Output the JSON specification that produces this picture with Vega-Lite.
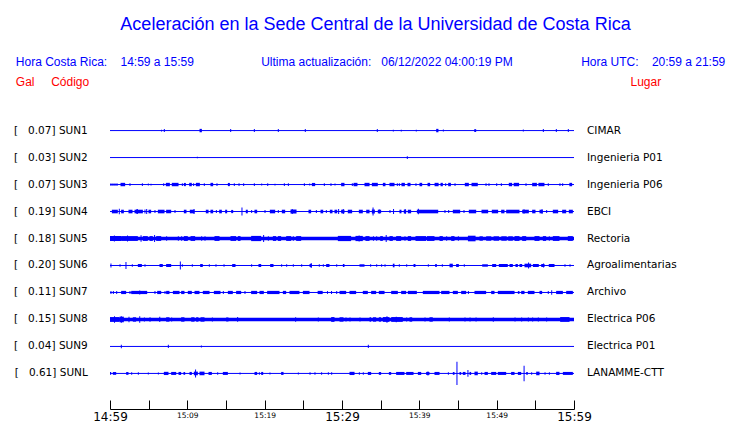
{
"$schema": "https://vega.github.io/schema/vega-lite/v6.json",
"width": 464, "height": 314,
"autosize": {"type": "none"},
"padding": {"left": 110, "top": 95, "right": 166, "bottom": 14},
"background": "white",
"config": {"view": {"stroke": null}, "axis": {"grid": false, "labelFont": "DejaVu Sans", "labelFontSize": 10.5, "labelColor": "#000000", "titleFont": "Liberation Sans", "titleFontSize": 12, "titleFontWeight": "normal"}},
"title": {"text": "Aceleración en la Sede Central de la Universidad de Costa Rica", "anchor": "middle", "frame": "group", "dx": 33.5, "dy": -17, "font": "Liberation Sans", "fontSize": 18, "fontWeight": "normal", "color": "#0000ff"},
"datasets": {
"stations": [
{"s": "SUN1", "gal": 0.07, "lugar": "CIMAR"},
{"s": "SUN2", "gal": 0.03, "lugar": "Ingenieria P01"},
{"s": "SUN3", "gal": 0.07, "lugar": "Ingenieria P06"},
{"s": "SUN4", "gal": 0.19, "lugar": "EBCI"},
{"s": "SUN5", "gal": 0.18, "lugar": "Rectoria"},
{"s": "SUN6", "gal": 0.20, "lugar": "Agroalimentarias"},
{"s": "SUN7", "gal": 0.11, "lugar": "Archivo"},
{"s": "SUN8", "gal": 0.15, "lugar": "Electrica P06"},
{"s": "SUN9", "gal": 0.04, "lugar": "Electrica P01"},
{"s": "SUNL", "gal": 0.61, "lugar": "LANAMME-CTT"}
],
"waves": [
{"s":"SUN5","t0":0,"t1":60,"a":0.085},
{"s":"SUN8","t0":0,"t1":60,"a":0.09},
{"s":"SUN1","t0":6.6,"t1":6.73,"a":0.045},{"s":"SUN1","t0":6.96,"t1":7.09,"a":0.075},{"s":"SUN1","t0":11.58,"t1":11.88,"a":0.085},{"s":"SUN1","t0":15.54,"t1":15.67,"a":0.075},{"s":"SUN1","t0":18.6,"t1":18.73,"a":0.075},{"s":"SUN1","t0":21.7,"t1":21.83,"a":0.075},{"s":"SUN1","t0":25.19,"t1":25.32,"a":0.075},{"s":"SUN1","t0":34.5,"t1":34.63,"a":0.075},{"s":"SUN1","t0":36.57,"t1":36.7,"a":0.045},{"s":"SUN1","t0":37.6,"t1":37.73,"a":0.045},{"s":"SUN1","t0":39.54,"t1":39.67,"a":0.045},{"s":"SUN1","t0":42.18,"t1":42.47,"a":0.085},{"s":"SUN1","t0":43.04,"t1":43.17,"a":0.05},{"s":"SUN1","t0":47.1,"t1":47.35,"a":0.07},{"s":"SUN1","t0":53.38,"t1":53.51,"a":0.05},{"s":"SUN1","t0":55.97,"t1":56.1,"a":0.075},{"s":"SUN1","t0":57.65,"t1":57.78,"a":0.075},{"s":"SUN1","t0":59.2,"t1":59.33,"a":0.075},
{"s":"SUN2","t0":11.23,"t1":11.36,"a":0.04},{"s":"SUN2","t0":38.38,"t1":38.51,"a":0.07},
{"s":"SUN3","t0":0.06,"t1":0.19,"a":0.07},{"s":"SUN3","t0":0.32,"t1":0.45,"a":0.07},{"s":"SUN3","t0":0.58,"t1":0.71,"a":0.07},{"s":"SUN3","t0":0.84,"t1":0.97,"a":0.07},{"s":"SUN3","t0":1.36,"t1":1.96,"a":0.085},{"s":"SUN3","t0":2.52,"t1":2.65,"a":0.07},{"s":"SUN3","t0":4.12,"t1":4.25,"a":0.07},{"s":"SUN3","t0":4.89,"t1":5.02,"a":0.05},{"s":"SUN3","t0":5.24,"t1":5.37,"a":0.045},{"s":"SUN3","t0":6.88,"t1":7.01,"a":0.07},{"s":"SUN3","t0":7.22,"t1":7.74,"a":0.085},{"s":"SUN3","t0":7.99,"t1":8.86,"a":0.085},{"s":"SUN3","t0":9.29,"t1":9.42,"a":0.07},{"s":"SUN3","t0":9.55,"t1":9.81,"a":0.08},{"s":"SUN3","t0":10.24,"t1":10.58,"a":0.085},{"s":"SUN3","t0":10.75,"t1":10.88,"a":0.07},{"s":"SUN3","t0":11.1,"t1":11.62,"a":0.085},{"s":"SUN3","t0":12.13,"t1":12.26,"a":0.07},{"s":"SUN3","t0":12.99,"t1":13.34,"a":0.085},{"s":"SUN3","t0":13.77,"t1":13.9,"a":0.07},{"s":"SUN3","t0":15.24,"t1":15.5,"a":0.08},{"s":"SUN3","t0":16.01,"t1":16.14,"a":0.07},{"s":"SUN3","t0":16.62,"t1":16.75,"a":0.07},{"s":"SUN3","t0":17.22,"t1":17.35,"a":0.07},{"s":"SUN3","t0":18.6,"t1":18.73,"a":0.07},{"s":"SUN3","t0":19.55,"t1":19.68,"a":0.05},{"s":"SUN3","t0":20.33,"t1":20.46,"a":0.07},{"s":"SUN3","t0":21.27,"t1":21.4,"a":0.045},{"s":"SUN3","t0":22.48,"t1":22.61,"a":0.07},{"s":"SUN3","t0":23.0,"t1":23.13,"a":0.07},{"s":"SUN3","t0":25.07,"t1":25.2,"a":0.07},{"s":"SUN3","t0":25.76,"t1":25.89,"a":0.05},{"s":"SUN3","t0":26.1,"t1":26.53,"a":0.08},{"s":"SUN3","t0":27.65,"t1":27.78,"a":0.07},{"s":"SUN3","t0":28.51,"t1":28.64,"a":0.07},{"s":"SUN3","t0":29.03,"t1":29.16,"a":0.05},{"s":"SUN3","t0":29.89,"t1":30.32,"a":0.085},{"s":"SUN3","t0":31.27,"t1":31.4,"a":0.07},{"s":"SUN3","t0":31.49,"t1":32.0,"a":0.085},{"s":"SUN3","t0":32.91,"t1":33.56,"a":0.085},{"s":"SUN3","t0":33.86,"t1":34.63,"a":0.085},{"s":"SUN3","t0":35.28,"t1":35.62,"a":0.085},{"s":"SUN3","t0":36.14,"t1":36.79,"a":0.085},{"s":"SUN3","t0":37.09,"t1":37.22,"a":0.07},{"s":"SUN3","t0":37.35,"t1":37.48,"a":0.07},{"s":"SUN3","t0":37.69,"t1":38.13,"a":0.085},{"s":"SUN3","t0":38.47,"t1":38.86,"a":0.085},{"s":"SUN3","t0":39.5,"t1":39.63,"a":0.07},{"s":"SUN3","t0":40.02,"t1":40.37,"a":0.085},{"s":"SUN3","t0":41.06,"t1":41.4,"a":0.085},{"s":"SUN3","t0":41.97,"t1":42.49,"a":0.085},{"s":"SUN3","t0":42.74,"t1":43.04,"a":0.085},{"s":"SUN3","t0":43.34,"t1":43.47,"a":0.07},{"s":"SUN3","t0":43.73,"t1":44.08,"a":0.085},{"s":"SUN3","t0":44.55,"t1":44.68,"a":0.07},{"s":"SUN3","t0":45.88,"t1":46.4,"a":0.085},{"s":"SUN3","t0":46.75,"t1":47.56,"a":0.085},{"s":"SUN3","t0":48.56,"t1":48.69,"a":0.07},{"s":"SUN3","t0":48.94,"t1":49.07,"a":0.07},{"s":"SUN3","t0":49.94,"t1":50.07,"a":0.07},{"s":"SUN3","t0":50.54,"t1":50.67,"a":0.07},{"s":"SUN3","t0":51.57,"t1":52.0,"a":0.085},{"s":"SUN3","t0":52.2,"t1":52.9,"a":0.085},{"s":"SUN3","t0":53.73,"t1":53.86,"a":0.07},{"s":"SUN3","t0":54.59,"t1":55.2,"a":0.085},{"s":"SUN3","t0":55.4,"t1":56.18,"a":0.085},{"s":"SUN3","t0":56.61,"t1":56.74,"a":0.07},{"s":"SUN3","t0":58.12,"t1":58.25,"a":0.07},{"s":"SUN3","t0":58.47,"t1":58.6,"a":0.07},{"s":"SUN3","t0":59.4,"t1":59.76,"a":0.085},
{"s":"SUN4","t0":0.24,"t1":1.01,"a":0.09},{"s":"SUN4","t0":1.14,"t1":1.27,"a":0.14},{"s":"SUN4","t0":1.44,"t1":1.79,"a":0.09},{"s":"SUN4","t0":2.39,"t1":2.91,"a":0.09},{"s":"SUN4","t0":3.17,"t1":4.25,"a":0.09},{"s":"SUN4","t0":3.42,"t1":3.6,"a":0.125},{"s":"SUN4","t0":4.46,"t1":4.59,"a":0.1},{"s":"SUN4","t0":4.68,"t1":4.81,"a":0.12},{"s":"SUN4","t0":4.98,"t1":5.32,"a":0.09},{"s":"SUN4","t0":5.75,"t1":5.88,"a":0.07},{"s":"SUN4","t0":6.19,"t1":7.05,"a":0.09},{"s":"SUN4","t0":7.26,"t1":7.91,"a":0.09},{"s":"SUN4","t0":8.34,"t1":8.47,"a":0.07},{"s":"SUN4","t0":9.55,"t1":9.89,"a":0.09},{"s":"SUN4","t0":10.32,"t1":10.93,"a":0.09},{"s":"SUN4","t0":10.8,"t1":10.93,"a":0.12},{"s":"SUN4","t0":12.39,"t1":12.74,"a":0.09},{"s":"SUN4","t0":12.99,"t1":13.34,"a":0.09},{"s":"SUN4","t0":13.69,"t1":13.82,"a":0.07},{"s":"SUN4","t0":14.12,"t1":14.46,"a":0.09},{"s":"SUN4","t0":14.89,"t1":15.15,"a":0.09},{"s":"SUN4","t0":15.67,"t1":15.93,"a":0.08},{"s":"SUN4","t0":17.0,"t1":17.13,"a":0.2},{"s":"SUN4","t0":17.56,"t1":17.82,"a":0.09},{"s":"SUN4","t0":18.25,"t1":18.38,"a":0.07},{"s":"SUN4","t0":18.68,"t1":19.03,"a":0.09},{"s":"SUN4","t0":19.98,"t1":20.11,"a":0.07},{"s":"SUN4","t0":20.67,"t1":21.36,"a":0.09},{"s":"SUN4","t0":21.7,"t1":21.83,"a":0.07},{"s":"SUN4","t0":22.22,"t1":22.65,"a":0.09},{"s":"SUN4","t0":23.34,"t1":24.12,"a":0.1},{"s":"SUN4","t0":23.5,"t1":23.63,"a":0.12},{"s":"SUN4","t0":25.67,"t1":26.01,"a":0.09},{"s":"SUN4","t0":26.62,"t1":26.75,"a":0.07},{"s":"SUN4","t0":27.22,"t1":27.57,"a":0.09},{"s":"SUN4","t0":27.91,"t1":28.04,"a":0.07},{"s":"SUN4","t0":28.43,"t1":28.77,"a":0.09},{"s":"SUN4","t0":29.03,"t1":29.38,"a":0.09},{"s":"SUN4","t0":29.5,"t1":29.63,"a":0.12},{"s":"SUN4","t0":29.89,"t1":30.32,"a":0.09},{"s":"SUN4","t0":30.1,"t1":30.23,"a":0.12},{"s":"SUN4","t0":30.75,"t1":31.31,"a":0.09},{"s":"SUN4","t0":32.18,"t1":32.69,"a":0.09},{"s":"SUN4","t0":33.13,"t1":33.56,"a":0.09},{"s":"SUN4","t0":33.86,"t1":34.25,"a":0.1},{"s":"SUN4","t0":33.95,"t1":34.08,"a":0.2},{"s":"SUN4","t0":34.63,"t1":35.06,"a":0.09},{"s":"SUN4","t0":34.76,"t1":34.89,"a":0.1},{"s":"SUN4","t0":36.14,"t1":36.27,"a":0.07},{"s":"SUN4","t0":36.6,"t1":36.73,"a":0.12},{"s":"SUN4","t0":37.43,"t1":37.69,"a":0.09},{"s":"SUN4","t0":37.99,"t1":38.3,"a":0.09},{"s":"SUN4","t0":38.1,"t1":38.23,"a":0.12},{"s":"SUN4","t0":38.51,"t1":38.94,"a":0.09},{"s":"SUN4","t0":39.68,"t1":42.44,"a":0.09},{"s":"SUN4","t0":39.81,"t1":39.94,"a":0.14},{"s":"SUN4","t0":43.25,"t1":43.38,"a":0.07},{"s":"SUN4","t0":43.73,"t1":43.86,"a":0.07},{"s":"SUN4","t0":44.33,"t1":45.28,"a":0.09},{"s":"SUN4","t0":45.71,"t1":45.84,"a":0.07},{"s":"SUN4","t0":46.4,"t1":47.35,"a":0.09},{"s":"SUN4","t0":48.04,"t1":48.9,"a":0.09},{"s":"SUN4","t0":49.37,"t1":50.19,"a":0.09},{"s":"SUN4","t0":50.58,"t1":51.01,"a":0.09},{"s":"SUN4","t0":51.23,"t1":52.95,"a":0.09},{"s":"SUN4","t0":53.3,"t1":54.16,"a":0.09},{"s":"SUN4","t0":53.47,"t1":53.6,"a":0.11},{"s":"SUN4","t0":54.59,"t1":55.02,"a":0.09},{"s":"SUN4","t0":55.54,"t1":55.97,"a":0.09},{"s":"SUN4","t0":55.8,"t1":55.93,"a":0.11},{"s":"SUN4","t0":56.4,"t1":56.53,"a":0.07},{"s":"SUN4","t0":57.26,"t1":57.95,"a":0.09},{"s":"SUN4","t0":58.47,"t1":58.99,"a":0.09},{"s":"SUN4","t0":59.33,"t1":59.85,"a":0.09},
{"s":"SUN5","t0":0,"t1":1.44,"a":0.125},{"s":"SUN5","t0":1.44,"t1":3.6,"a":0.12},{"s":"SUN5","t0":0.5,"t1":0.63,"a":0.15},{"s":"SUN5","t0":2.2,"t1":2.33,"a":0.15},{"s":"SUN5","t0":3.95,"t1":4.08,"a":0.16},{"s":"SUN5","t0":4.25,"t1":4.89,"a":0.12},{"s":"SUN5","t0":5.11,"t1":5.54,"a":0.12},{"s":"SUN5","t0":5.7,"t1":5.83,"a":0.17},{"s":"SUN5","t0":5.97,"t1":6.62,"a":0.12},{"s":"SUN5","t0":7.26,"t1":7.39,"a":0.11},{"s":"SUN5","t0":8.77,"t1":8.9,"a":0.11},{"s":"SUN5","t0":9.2,"t1":9.33,"a":0.11},{"s":"SUN5","t0":9.55,"t1":10.06,"a":0.12},{"s":"SUN5","t0":10.41,"t1":11.01,"a":0.12},{"s":"SUN5","t0":11.79,"t1":11.92,"a":0.11},{"s":"SUN5","t0":12.22,"t1":12.35,"a":0.11},{"s":"SUN5","t0":13.51,"t1":14.16,"a":0.12},{"s":"SUN5","t0":15.58,"t1":16.31,"a":0.12},{"s":"SUN5","t0":16.53,"t1":16.88,"a":0.12},{"s":"SUN5","t0":18.25,"t1":19.55,"a":0.13},{"s":"SUN5","t0":19.8,"t1":19.93,"a":0.17},{"s":"SUN5","t0":20.41,"t1":20.54,"a":0.11},{"s":"SUN5","t0":21.06,"t1":21.49,"a":0.12},{"s":"SUN5","t0":21.7,"t1":22.13,"a":0.12},{"s":"SUN5","t0":22.78,"t1":23.43,"a":0.12},{"s":"SUN5","t0":23.64,"t1":23.77,"a":0.11},{"s":"SUN5","t0":24.07,"t1":24.72,"a":0.12},{"s":"SUN5","t0":29.46,"t1":31.18,"a":0.13},{"s":"SUN5","t0":31.74,"t1":32.69,"a":0.13},{"s":"SUN5","t0":32.15,"t1":32.28,"a":0.15},{"s":"SUN5","t0":33.03,"t1":33.56,"a":0.12},{"s":"SUN5","t0":34.0,"t1":34.13,"a":0.11},{"s":"SUN5","t0":34.42,"t1":34.55,"a":0.11},{"s":"SUN5","t0":34.94,"t1":35.28,"a":0.12},{"s":"SUN5","t0":35.65,"t1":35.78,"a":0.17},{"s":"SUN5","t0":36.14,"t1":36.57,"a":0.12},{"s":"SUN5","t0":37.0,"t1":37.65,"a":0.12},{"s":"SUN5","t0":38.08,"t1":38.21,"a":0.11},{"s":"SUN5","t0":38.51,"t1":38.94,"a":0.12},{"s":"SUN5","t0":39.5,"t1":40.88,"a":0.12},{"s":"SUN5","t0":40.99,"t1":41.96,"a":0.12},{"s":"SUN5","t0":42.61,"t1":43.04,"a":0.12},{"s":"SUN5","t0":43.47,"t1":43.6,"a":0.11},{"s":"SUN5","t0":44.12,"t1":44.55,"a":0.12},{"s":"SUN5","t0":44.98,"t1":45.11,"a":0.11},{"s":"SUN5","t0":46.28,"t1":47.27,"a":0.14},{"s":"SUN5","t0":47.78,"t1":48.21,"a":0.11},{"s":"SUN5","t0":48.64,"t1":49.3,"a":0.11},{"s":"SUN5","t0":49.6,"t1":50.3,"a":0.11},{"s":"SUN5","t0":50.6,"t1":51.3,"a":0.11},{"s":"SUN5","t0":51.5,"t1":52.09,"a":0.11},{"s":"SUN5","t0":52.31,"t1":52.95,"a":0.12},{"s":"SUN5","t0":53.3,"t1":53.82,"a":0.12},{"s":"SUN5","t0":54.89,"t1":55.54,"a":0.12},{"s":"SUN5","t0":55.97,"t1":56.4,"a":0.12},{"s":"SUN5","t0":56.74,"t1":56.87,"a":0.11},{"s":"SUN5","t0":57.26,"t1":58.12,"a":0.12},{"s":"SUN5","t0":59.2,"t1":59.85,"a":0.12},
{"s":"SUN6","t0":0.06,"t1":0.19,"a":0.1},{"s":"SUN6","t0":1.23,"t1":1.36,"a":0.06},{"s":"SUN6","t0":2.0,"t1":2.13,"a":0.175},{"s":"SUN6","t0":2.82,"t1":2.95,"a":0.06},{"s":"SUN6","t0":3.6,"t1":4.12,"a":0.075},{"s":"SUN6","t0":4.46,"t1":4.59,"a":0.06},{"s":"SUN6","t0":6.4,"t1":6.83,"a":0.075},{"s":"SUN6","t0":7.26,"t1":7.91,"a":0.075},{"s":"SUN6","t0":9.03,"t1":9.16,"a":0.2},{"s":"SUN6","t0":9.29,"t1":9.42,"a":0.06},{"s":"SUN6","t0":10.58,"t1":10.71,"a":0.06},{"s":"SUN6","t0":11.66,"t1":12.0,"a":0.075},{"s":"SUN6","t0":12.78,"t1":12.91,"a":0.06},{"s":"SUN6","t0":13.64,"t1":13.77,"a":0.06},{"s":"SUN6","t0":14.68,"t1":14.81,"a":0.06},{"s":"SUN6","t0":15.8,"t1":16.23,"a":0.075},{"s":"SUN6","t0":18.25,"t1":18.38,"a":0.06},{"s":"SUN6","t0":19.2,"t1":19.55,"a":0.075},{"s":"SUN6","t0":20.71,"t1":21.14,"a":0.075},{"s":"SUN6","t0":22.13,"t1":22.26,"a":0.06},{"s":"SUN6","t0":22.78,"t1":22.91,"a":0.06},{"s":"SUN6","t0":23.64,"t1":23.77,"a":0.06},{"s":"SUN6","t0":24.72,"t1":24.85,"a":0.06},{"s":"SUN6","t0":25.8,"t1":26.1,"a":0.075},{"s":"SUN6","t0":25.95,"t1":26.08,"a":0.12},{"s":"SUN6","t0":27.0,"t1":27.13,"a":0.06},{"s":"SUN6","t0":27.52,"t1":27.65,"a":0.06},{"s":"SUN6","t0":27.95,"t1":28.38,"a":0.075},{"s":"SUN6","t0":29.25,"t1":29.38,"a":0.06},{"s":"SUN6","t0":30.11,"t1":30.32,"a":0.075},{"s":"SUN6","t0":32.26,"t1":32.91,"a":0.06},{"s":"SUN6","t0":33.64,"t1":33.77,"a":0.06},{"s":"SUN6","t0":34.42,"t1":34.55,"a":0.06},{"s":"SUN6","t0":35.06,"t1":35.19,"a":0.06},{"s":"SUN6","t0":35.5,"t1":35.63,"a":0.06},{"s":"SUN6","t0":36.57,"t1":36.79,"a":0.09},{"s":"SUN6","t0":37.35,"t1":37.48,"a":0.06},{"s":"SUN6","t0":38.3,"t1":38.43,"a":0.06},{"s":"SUN6","t0":39.25,"t1":39.5,"a":0.075},{"s":"SUN6","t0":41.1,"t1":41.23,"a":0.06},{"s":"SUN6","t0":42.05,"t1":42.26,"a":0.075},{"s":"SUN6","t0":42.91,"t1":43.04,"a":0.06},{"s":"SUN6","t0":43.9,"t1":44.33,"a":0.09},{"s":"SUN6","t0":44.76,"t1":45.11,"a":0.075},{"s":"SUN6","t0":45.75,"t1":45.88,"a":0.06},{"s":"SUN6","t0":48.13,"t1":48.86,"a":0.06},{"s":"SUN6","t0":49.42,"t1":49.94,"a":0.075},{"s":"SUN6","t0":50.28,"t1":51.44,"a":0.075},{"s":"SUN6","t0":51.66,"t1":52.09,"a":0.075},{"s":"SUN6","t0":52.43,"t1":52.74,"a":0.075},{"s":"SUN6","t0":52.95,"t1":53.3,"a":0.075},{"s":"SUN6","t0":53.6,"t1":54.46,"a":0.09},{"s":"SUN6","t0":54.06,"t1":54.19,"a":0.15},{"s":"SUN6","t0":54.68,"t1":55.45,"a":0.075},{"s":"SUN6","t0":55.76,"t1":56.19,"a":0.075},{"s":"SUN6","t0":56.0,"t1":56.13,"a":0.1},{"s":"SUN6","t0":56.74,"t1":57.48,"a":0.075},{"s":"SUN6","t0":58.77,"t1":58.9,"a":0.06},{"s":"SUN6","t0":59.42,"t1":59.55,"a":0.06},
{"s":"SUN7","t0":0.06,"t1":0.19,"a":0.08},{"s":"SUN7","t0":0.37,"t1":0.5,"a":0.08},{"s":"SUN7","t0":0.8,"t1":0.93,"a":0.08},{"s":"SUN7","t0":1.44,"t1":2.09,"a":0.08},{"s":"SUN7","t0":2.52,"t1":2.65,"a":0.07},{"s":"SUN7","t0":2.74,"t1":4.81,"a":0.08},{"s":"SUN7","t0":3.78,"t1":3.91,"a":0.1},{"s":"SUN7","t0":5.75,"t1":5.88,"a":0.07},{"s":"SUN7","t0":6.1,"t1":6.62,"a":0.08},{"s":"SUN7","t0":7.05,"t1":7.18,"a":0.07},{"s":"SUN7","t0":7.26,"t1":7.69,"a":0.08},{"s":"SUN7","t0":8.13,"t1":8.99,"a":0.08},{"s":"SUN7","t0":9.2,"t1":9.63,"a":0.08},{"s":"SUN7","t0":10.06,"t1":10.58,"a":0.08},{"s":"SUN7","t0":10.93,"t1":11.57,"a":0.08},{"s":"SUN7","t0":12.0,"t1":12.87,"a":0.08},{"s":"SUN7","t0":13.43,"t1":14.29,"a":0.08},{"s":"SUN7","t0":14.59,"t1":14.72,"a":0.07},{"s":"SUN7","t0":15.24,"t1":15.88,"a":0.08},{"s":"SUN7","t0":16.31,"t1":16.96,"a":0.08},{"s":"SUN7","t0":17.39,"t1":17.52,"a":0.07},{"s":"SUN7","t0":18.25,"t1":19.03,"a":0.08},{"s":"SUN7","t0":19.33,"t1":19.89,"a":0.08},{"s":"SUN7","t0":20.32,"t1":21.92,"a":0.08},{"s":"SUN7","t0":22.35,"t1":22.78,"a":0.08},{"s":"SUN7","t0":23.21,"t1":24.5,"a":0.08},{"s":"SUN7","t0":24.94,"t1":25.8,"a":0.08},{"s":"SUN7","t0":26.85,"t1":27.5,"a":0.08},{"s":"SUN7","t0":28.06,"t1":28.19,"a":0.07},{"s":"SUN7","t0":28.58,"t1":28.71,"a":0.07},{"s":"SUN7","t0":29.25,"t1":29.38,"a":0.07},{"s":"SUN7","t0":29.68,"t1":30.54,"a":0.08},{"s":"SUN7","t0":30.97,"t1":31.83,"a":0.08},{"s":"SUN7","t0":32.69,"t1":33.34,"a":0.08},{"s":"SUN7","t0":33.77,"t1":34.42,"a":0.08},{"s":"SUN7","t0":34.76,"t1":35.5,"a":0.08},{"s":"SUN7","t0":36.36,"t1":37.22,"a":0.08},{"s":"SUN7","t0":37.65,"t1":38.3,"a":0.08},{"s":"SUN7","t0":38.51,"t1":39.68,"a":0.08},{"s":"SUN7","t0":40.45,"t1":42.61,"a":0.08},{"s":"SUN7","t0":42.82,"t1":43.9,"a":0.08},{"s":"SUN7","t0":44.33,"t1":44.98,"a":0.08},{"s":"SUN7","t0":45.41,"t1":46.06,"a":0.08},{"s":"SUN7","t0":46.28,"t1":46.41,"a":0.07},{"s":"SUN7","t0":47.13,"t1":48.64,"a":0.08},{"s":"SUN7","t0":49.29,"t1":49.72,"a":0.08},{"s":"SUN7","t0":50.15,"t1":52.31,"a":0.08},{"s":"SUN7","t0":52.74,"t1":52.95,"a":0.07},{"s":"SUN7","t0":53.17,"t1":53.6,"a":0.08},{"s":"SUN7","t0":54.03,"t1":54.89,"a":0.08},{"s":"SUN7","t0":55.54,"t1":55.88,"a":0.08},{"s":"SUN7","t0":56.61,"t1":56.74,"a":0.07},{"s":"SUN7","t0":57.05,"t1":57.18,"a":0.11},{"s":"SUN7","t0":57.69,"t1":58.56,"a":0.08},{"s":"SUN7","t0":58.99,"t1":59.85,"a":0.08},
{"s":"SUN8","t0":0,"t1":1.23,"a":0.12},{"s":"SUN8","t0":0.52,"t1":0.65,"a":0.16},{"s":"SUN8","t0":1.23,"t1":1.79,"a":0.14},{"s":"SUN8","t0":1.4,"t1":1.53,"a":0.16},{"s":"SUN8","t0":2.39,"t1":2.52,"a":0.14},{"s":"SUN8","t0":2.95,"t1":3.38,"a":0.11},{"s":"SUN8","t0":3.78,"t1":3.91,"a":0.16},{"s":"SUN8","t0":4.38,"t1":4.51,"a":0.1},{"s":"SUN8","t0":5.11,"t1":5.24,"a":0.11},{"s":"SUN8","t0":6.37,"t1":6.5,"a":0.13},{"s":"SUN8","t0":7.26,"t1":7.69,"a":0.11},{"s":"SUN8","t0":7.91,"t1":8.04,"a":0.1},{"s":"SUN8","t0":9.2,"t1":9.63,"a":0.11},{"s":"SUN8","t0":10.5,"t1":10.93,"a":0.11},{"s":"SUN8","t0":11.14,"t1":11.44,"a":0.11},{"s":"SUN8","t0":11.7,"t1":12.22,"a":0.11},{"s":"SUN8","t0":13.17,"t1":13.3,"a":0.1},{"s":"SUN8","t0":15.02,"t1":15.32,"a":0.1},{"s":"SUN8","t0":16.44,"t1":16.57,"a":0.12},{"s":"SUN8","t0":23.94,"t1":24.07,"a":0.11},{"s":"SUN8","t0":26.87,"t1":27.0,"a":0.1},{"s":"SUN8","t0":28.6,"t1":29.03,"a":0.12},{"s":"SUN8","t0":29.68,"t1":30.19,"a":0.11},{"s":"SUN8","t0":30.45,"t1":30.58,"a":0.1},{"s":"SUN8","t0":30.97,"t1":31.1,"a":0.1},{"s":"SUN8","t0":32.26,"t1":32.39,"a":0.1},{"s":"SUN8","t0":33.56,"t1":33.77,"a":0.11},{"s":"SUN8","t0":34.0,"t1":34.42,"a":0.11},{"s":"SUN8","t0":34.76,"t1":35.06,"a":0.11},{"s":"SUN8","t0":35.28,"t1":36.14,"a":0.12},{"s":"SUN8","t0":35.75,"t1":35.88,"a":0.16},{"s":"SUN8","t0":36.36,"t1":37.86,"a":0.12},{"s":"SUN8","t0":36.95,"t1":37.08,"a":0.14},{"s":"SUN8","t0":38.3,"t1":38.43,"a":0.1},{"s":"SUN8","t0":38.73,"t1":39.08,"a":0.11},{"s":"SUN8","t0":40.67,"t1":40.8,"a":0.1},{"s":"SUN8","t0":41.31,"t1":41.74,"a":0.11},{"s":"SUN8","t0":43.81,"t1":43.94,"a":0.1},{"s":"SUN8","t0":45.84,"t1":45.97,"a":0.1},{"s":"SUN8","t0":46.49,"t1":46.62,"a":0.1},{"s":"SUN8","t0":47.27,"t1":47.4,"a":0.1},{"s":"SUN8","t0":49.5,"t1":49.63,"a":0.11},{"s":"SUN8","t0":52.31,"t1":52.44,"a":0.1},{"s":"SUN8","t0":53.17,"t1":53.3,"a":0.1},{"s":"SUN8","t0":54.03,"t1":54.16,"a":0.1},{"s":"SUN8","t0":54.59,"t1":54.72,"a":0.1},{"s":"SUN8","t0":55.32,"t1":55.45,"a":0.1},{"s":"SUN8","t0":56.4,"t1":56.53,"a":0.1},{"s":"SUN8","t0":58.21,"t1":59.42,"a":0.12},
{"s":"SUN9","t0":1.4,"t1":1.53,"a":0.09},{"s":"SUN9","t0":7.48,"t1":7.61,"a":0.08},{"s":"SUN9","t0":11.75,"t1":11.88,"a":0.05},{"s":"SUN9","t0":33.34,"t1":33.47,"a":0.08},
{"s":"SUNL","t0":0,"t1":0.15,"a":0.07},{"s":"SUNL","t0":0.37,"t1":0.8,"a":0.07},{"s":"SUNL","t0":2.09,"t1":2.39,"a":0.07},{"s":"SUNL","t0":2.74,"t1":2.87,"a":0.06},{"s":"SUNL","t0":3.6,"t1":3.73,"a":0.06},{"s":"SUNL","t0":4.89,"t1":5.02,"a":0.05},{"s":"SUNL","t0":6.19,"t1":6.32,"a":0.05},{"s":"SUNL","t0":6.96,"t1":7.56,"a":0.08},{"s":"SUNL","t0":7.91,"t1":8.56,"a":0.075},{"s":"SUNL","t0":8.86,"t1":9.2,"a":0.075},{"s":"SUNL","t0":9.5,"t1":9.72,"a":0.07},{"s":"SUNL","t0":10.28,"t1":10.58,"a":0.075},{"s":"SUNL","t0":10.84,"t1":11.36,"a":0.09},{"s":"SUNL","t0":11.0,"t1":11.13,"a":0.2},{"s":"SUNL","t0":11.57,"t1":12.22,"a":0.09},{"s":"SUNL","t0":12.74,"t1":13.17,"a":0.075},{"s":"SUNL","t0":13.86,"t1":13.99,"a":0.06},{"s":"SUNL","t0":14.59,"t1":15.24,"a":0.075},{"s":"SUNL","t0":16.75,"t1":16.88,"a":0.05},{"s":"SUNL","t0":18.69,"t1":19.03,"a":0.075},{"s":"SUNL","t0":19.25,"t1":19.38,"a":0.06},{"s":"SUNL","t0":19.55,"t1":19.81,"a":0.075},{"s":"SUNL","t0":20.62,"t1":20.75,"a":0.05},{"s":"SUNL","t0":22.13,"t1":22.44,"a":0.075},{"s":"SUNL","t0":24.29,"t1":24.42,"a":0.05},{"s":"SUNL","t0":25.8,"t1":25.93,"a":0.06},{"s":"SUNL","t0":26.44,"t1":26.57,"a":0.06},{"s":"SUNL","t0":27.3,"t1":27.43,"a":0.06},{"s":"SUNL","t0":28.17,"t1":28.3,"a":0.06},{"s":"SUNL","t0":28.6,"t1":28.73,"a":0.06},{"s":"SUNL","t0":30.97,"t1":31.62,"a":0.08},{"s":"SUNL","t0":32.18,"t1":32.31,"a":0.06},{"s":"SUNL","t0":32.69,"t1":32.82,"a":0.06},{"s":"SUNL","t0":33.34,"t1":33.77,"a":0.075},{"s":"SUNL","t0":34.76,"t1":35.06,"a":0.07},{"s":"SUNL","t0":36.06,"t1":36.36,"a":0.07},{"s":"SUNL","t0":37.0,"t1":38.08,"a":0.075},{"s":"SUNL","t0":38.3,"t1":39.25,"a":0.075},{"s":"SUNL","t0":39.81,"t1":40.24,"a":0.075},{"s":"SUNL","t0":40.88,"t1":41.31,"a":0.075},{"s":"SUNL","t0":41.05,"t1":41.18,"a":0.1},{"s":"SUNL","t0":41.96,"t1":42.61,"a":0.075},{"s":"SUNL","t0":43.69,"t1":43.82,"a":0.06},{"s":"SUNL","t0":44.33,"t1":44.55,"a":0.07},{"s":"SUNL","t0":44.8,"t1":44.93,"a":0.58},{"s":"SUNL","t0":45.19,"t1":45.41,"a":0.07},{"s":"SUNL","t0":45.62,"t1":45.97,"a":0.075},{"s":"SUNL","t0":46.22,"t1":46.35,"a":0.17},{"s":"SUNL","t0":46.49,"t1":46.7,"a":0.075},{"s":"SUNL","t0":47.13,"t1":47.56,"a":0.09},{"s":"SUNL","t0":48.0,"t1":48.13,"a":0.06},{"s":"SUNL","t0":48.43,"t1":48.86,"a":0.075},{"s":"SUNL","t0":49.29,"t1":49.94,"a":0.075},{"s":"SUNL","t0":50.15,"t1":51.23,"a":0.075},{"s":"SUNL","t0":51.87,"t1":52.31,"a":0.075},{"s":"SUNL","t0":52.74,"t1":53.17,"a":0.075},{"s":"SUNL","t0":53.48,"t1":53.61,"a":0.39},{"s":"SUNL","t0":53.82,"t1":54.03,"a":0.07},{"s":"SUNL","t0":54.46,"t1":54.59,"a":0.06},{"s":"SUNL","t0":55.11,"t1":55.54,"a":0.09},{"s":"SUNL","t0":56.19,"t1":56.32,"a":0.06},{"s":"SUNL","t0":56.75,"t1":56.88,"a":0.06},{"s":"SUNL","t0":57.69,"t1":58.12,"a":0.08},{"s":"SUNL","t0":58.56,"t1":59.85,"a":0.075}
]
},
"layer": [
{
"data": {"name": "waves"},
"mark": {"type": "bar", "color": "#0000ff"},
"encoding": {
"x": {"field": "t0", "type": "quantitative", "scale": {"domain": [0, 60], "nice": false, "zero": false},
"axis": {"values": [0,5,10,15,20,25,30,35,40,45,50,55,60], "grid": false, "domainColor": "#000000", "tickColor": "#000000", "tickSize": -9, "labelPadding": 11, "labelBaseline": "top", "labelFlush": false, "labelOverlap": false,
"labelExpr": "datum.value % 10 == 0 ? format(floor((899 + datum.value) / 60), 'd') + ':' + format((899 + datum.value) % 60, '02d') : ''",
"labelFontSize": {"condition": {"test": "datum.value % 30 == 0", "value": 12}, "value": 7.5},
"title": "Ultima actualización:\u00a0\u00a0\u00a006/12/2022 04:00:19 PM", "titleX": 150.7, "titleY": -344, "titleAlign": "left", "titleAnchor": null, "titleBaseline": "alphabetic", "titleColor": "#0000ff"}},
"x2": {"field": "t1"},
"y": {"field": "s", "type": "nominal", "scale": {"type": "band", "domain": ["SUN1","SUN2","SUN3","SUN4","SUN5","SUN6","SUN7","SUN8","SUN9","SUNL"], "paddingInner": 0, "paddingOuter": 0.818},
"axis": {"orient": "left", "labels": false, "ticks": false, "domain": false, "title": "Hora Costa Rica:\u00a0\u00a0\u00a0\u00a014:59 a 15:59", "titleAngle": 0, "titleX": -94.7, "titleY": -30, "titleAlign": "left", "titleBaseline": "alphabetic", "titleColor": "#0000ff"}},
"size": {"field": "a", "type": "quantitative", "scale": {"domain": [0, 1], "range": [0, 40], "zero": true}, "legend": null}
}
},
{
"data": {"name": "stations"},
"mark": {"type": "rule", "color": "#0000ff", "strokeWidth": 1},
"encoding": {
"y": {"field": "lugar", "type": "nominal", "sort": null, "scale": {"type": "band", "paddingInner": 0, "paddingOuter": 0.818},
"axis": {"orient": "right", "ticks": false, "tickSize": 0, "domain": false, "labelPadding": 12.5, "labelFontSize": 10.5, "title": "Lugar", "titleAngle": 0, "titleX": 56, "titleY": -10, "titleAlign": "left", "titleBaseline": "alphabetic", "titleColor": "#ff0000"}}
}
},
{
"data": {"name": "stations"},
"transform": [{"calculate": "'[\u00a0\u00a0\u00a0' + format(datum.gal, '.2f') + '] ' + datum.s", "as": "etiqueta"}],
"mark": {"type": "rule", "opacity": 0},
"encoding": {
"y": {"field": "etiqueta", "type": "nominal", "sort": null, "scale": {"type": "band", "paddingInner": 0, "paddingOuter": 0.818},
"axis": {"orient": "left", "ticks": false, "tickSize": 0, "domain": false, "labelPadding": 22.7, "title": "Gal\u00a0\u00a0\u00a0\u00a0\u00a0Código", "titleAngle": 0, "titleX": -94.7, "titleY": -10, "titleAlign": "left", "titleBaseline": "alphabetic", "titleColor": "#ff0000"}}
}
},
{
"data": {"name": "stations"},
"mark": {"type": "rule", "opacity": 0},
"encoding": {
"y": {"field": "s", "type": "nominal", "sort": null, "scale": {"type": "band", "paddingInner": 0, "paddingOuter": 0.818},
"axis": {"orient": "right", "labels": false, "ticks": false, "domain": false, "title": "Hora UTC:\u00a0\u00a0\u00a0\u00a020:59 a 21:59", "titleAngle": 0, "titleX": 6.7, "titleY": -30, "titleAlign": "left", "titleBaseline": "alphabetic", "titleColor": "#0000ff"}}
}
}
],
"resolve": {"scale": {"y": "independent"}}
}
